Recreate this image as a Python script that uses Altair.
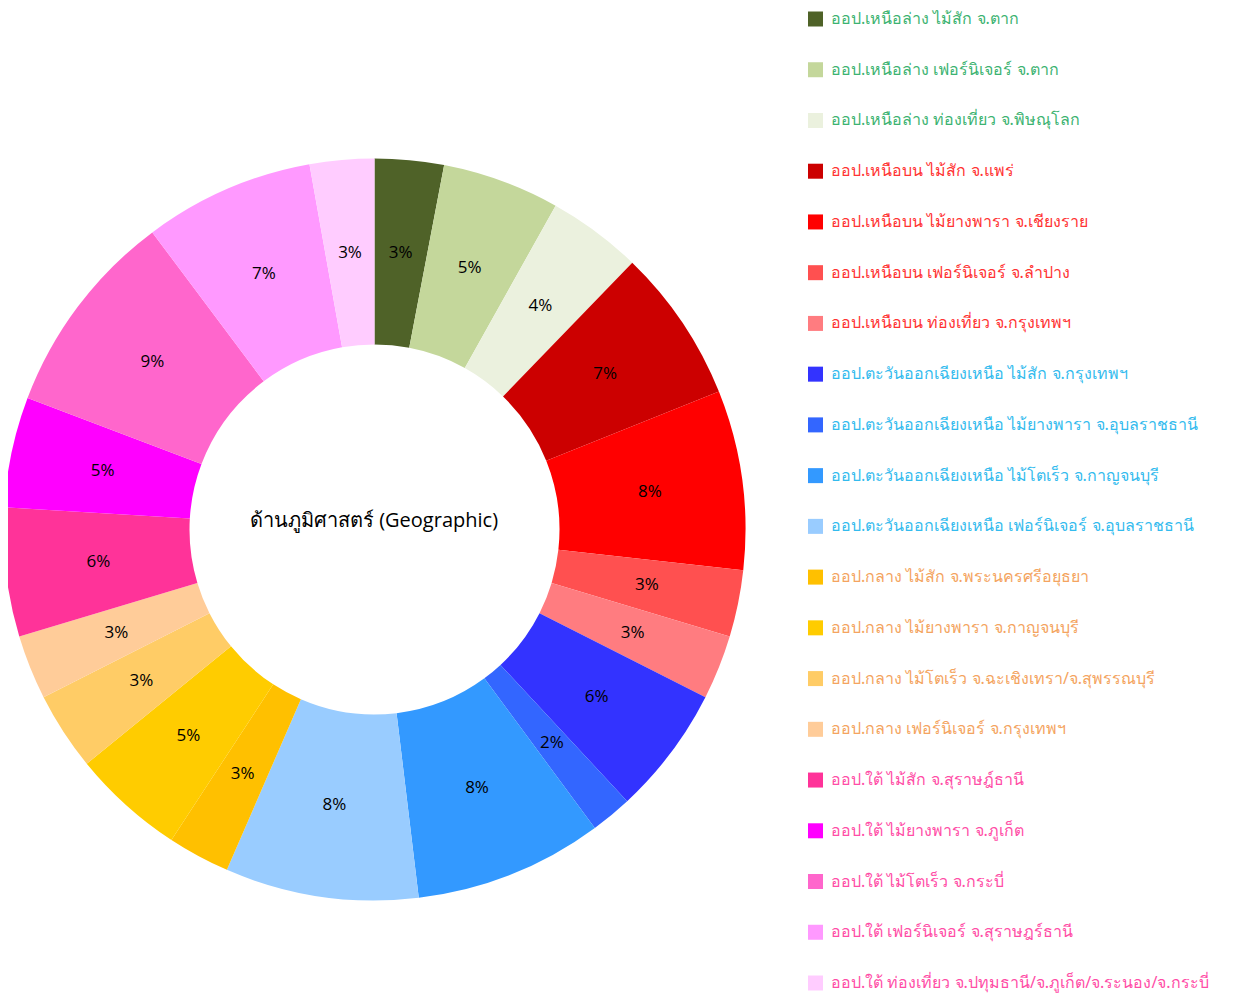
import altair as alt
import pandas as pd

labels = [
    "ออป.เหนือล่าง ไม้สัก จ.ตาก",
    "ออป.เหนือล่าง เฟอร์นิเจอร์ จ.ตาก",
    "ออป.เหนือล่าง ท่องเที่ยว จ.พิษณุโลก",
    "ออป.เหนือบน ไม้สัก จ.แพร่",
    "ออป.เหนือบน ไม้ยางพารา จ.เชียงราย",
    "ออป.เหนือบน เฟอร์นิเจอร์ จ.ลำปาง",
    "ออป.เหนือบน ท่องเที่ยว จ.กรุงเทพฯ",
    "ออป.ตะวันออกเฉียงเหนือ ไม้สัก จ.กรุงเทพฯ",
    "ออป.ตะวันออกเฉียงเหนือ ไม้ยางพารา จ.อุบลราชธานี",
    "ออป.ตะวันออกเฉียงเหนือ ไม้โตเร็ว จ.กาญจนบุรี",
    "ออป.ตะวันออกเฉียงเหนือ เฟอร์นิเจอร์ จ.อุบลราชธานี",
    "ออป.กลาง ไม้สัก จ.พระนครศรีอยุธยา",
    "ออป.กลาง ไม้ยางพารา จ.กาญจนบุรี",
    "ออป.กลาง ไม้โตเร็ว จ.ฉะเชิงเทรา/จ.สุพรรณบุรี",
    "ออป.กลาง เฟอร์นิเจอร์ จ.กรุงเทพฯ",
    "ออป.ใต้ ไม้สัก จ.สุราษฎ์ธานี",
    "ออป.ใต้ ไม้ยางพารา จ.ภูเก็ต",
    "ออป.ใต้ ไม้โตเร็ว จ.กระบี่",
    "ออป.ใต้ เฟอร์นิเจอร์ จ.สุราษฎร์ธานี",
    "ออป.ใต้ ท่องเที่ยว จ.ปทุมธานี/จ.ภูเก็ต/จ.ระนอง/จ.กระบี่",
]
values = [3.0, 5.1, 4.1, 6.7, 7.8, 2.9, 2.8, 5.6, 1.8, 8.2,
          8.4, 2.7, 4.9, 3.4, 2.8, 5.6, 4.8, 9.0, 7.4, 2.8]
slice_colors = [
    "#4F6228", "#C4D79B", "#EBF1DE",
    "#CC0000", "#FF0000", "#FF5050", "#FF7C80",
    "#3333FF", "#3366FF", "#3399FF", "#99CCFF",
    "#FFC000", "#FFCC00", "#FFCC66", "#FFCC99",
    "#FF3399", "#FF00FF", "#FF66CC", "#FF99FF", "#FFCCFF",
]
region_text_colors = (
    ["#3CB371"] * 3 + ["#FF3333"] * 4 + ["#33BBEE"] * 4
    + ["#F4A460"] * 4 + ["#FF4DA6"] * 5
)
center_title = "ด้านภูมิศาสตร์ (Geographic)"

df = pd.DataFrame({
    "idx": list(range(len(labels))),
    "label": labels,
    "value": values,
    "fill": slice_colors,
    "tcolor": region_text_colors,
})

CX, CY = 366.5, 521.5

base = alt.Chart(df).encode(
    theta=alt.Theta("value:Q", stack=True),
    order=alt.Order("idx:Q"),
)

arcs = base.mark_arc(outerRadius=371, innerRadius=185, stroke=None).encode(
    color=alt.Color("fill:N", scale=None),
    x=alt.value(CX),
    y=alt.value(CY),
)

pct = base.transform_joinaggregate(total="sum(value)").transform_calculate(
    pct_label="format(datum.value / datum.total, '.0%')"
).mark_text(radius=278, fontSize=17, font="Open Sans", color="black").encode(
    text="pct_label:N",
    x=alt.value(CX),
    y=alt.value(CY),
)

center = alt.Chart(pd.DataFrame({"t": [center_title]})).mark_text(
    fontSize=20, font="Open Sans", color="black"
).encode(text="t:N", x=alt.value(366), y=alt.value(513))

yscale = alt.Scale(type="point", domain=labels, range=[11, 975], padding=0)

legend_sq = alt.Chart(df).mark_square(size=225, opacity=1).encode(
    x=alt.value(807.5),
    y=alt.Y("label:N", scale=yscale, axis=None),
    color=alt.Color("fill:N", scale=None),
)

legend_txt = alt.Chart(df).mark_text(
    align="left", baseline="middle", fontSize=16, font="Noto Sans"
).encode(
    x=alt.value(823),
    y=alt.Y("label:N", scale=yscale, axis=None),
    text="label:N",
    color=alt.Color("tcolor:N", scale=None),
)

chart = alt.layer(arcs, pct, center, legend_sq, legend_txt).properties(
    width=1230, height=988, autosize="none", padding=0
).configure_view(strokeWidth=0)

chart.save("out.html", embed_options={"renderer": "svg", "actions": False})
